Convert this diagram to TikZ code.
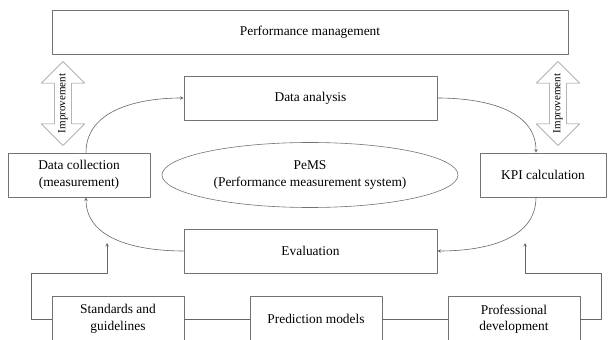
\documentclass[tikz,border=0pt]{standalone}
\usepackage{fontspec}
\setmainfont{Liberation Serif}
\usetikzlibrary{shapes.geometric,shapes.arrows}
\begin{document}
\begin{tikzpicture}[x=1pt, y=1pt, >=stealth, line join=round, font=\fontsize{13.4}{16.5}\selectfont,
	box/.style={draw=black!55, line width=0.6pt, minimum height=44pt, align=center, inner sep=2pt},
	link/.style={draw=black!60, line width=0.6pt},
	impr/.style={double arrow, draw=black!45, line width=0.6pt, rotate=90, minimum height=77pt, minimum width=43pt, double arrow head extend=13pt, inner sep=3.5pt, font=\fontsize{11}{12}\selectfont}]
	\useasboundingbox (0,0) rectangle (608,340);
	% top and the cycle
	\node[box, minimum width=516pt] (pm) at (310,308) {Performance management};
	\node[box, minimum width=253pt] (da) at (310.5,242) {Data analysis};
	\node[box, minimum width=142pt] (dc) at (79,165) {Data collection\\(measurement)};
	\node[box, minimum width=126pt] (kpi) at (543,165) {KPI calculation};
	\node[box, minimum width=253pt] (ev) at (310.5,89) {Evaluation};
	\node[ellipse, draw=black!55, line width=0.6pt, minimum width=296pt, minimum height=65pt, inner sep=0pt, align=center] (pems) at (310,165) {PeMS\\(Performance measurement system)};
	\foreach \n/\x in {ia/63, ib/558}{\node[impr] (\n) at (\x,236.5) {Improvement};}
	\draw[link,->] ([xshift=7pt]dc.north) to[out=90,in=180] (da.west);
	\draw[link,->] (da.east) to[out=0,in=90] ([xshift=-7pt]kpi.north);
	\draw[link,->] ([xshift=-7pt]kpi.south) to[out=-90,in=0] (ev.east);
	\draw[link,->] (ev.west) to[out=180,in=-90] ([xshift=7pt]dc.south);
	% bottom row
	\foreach \n/\x/\t in {sg/118/{Standards and\\guidelines}, pr/316/{Prediction models}, pd/514/{Professional\\development}}{\node[box, minimum width=132pt, minimum height=46pt] (\n) at (\x,21) {\t};}
	\coordinate (ta) at (107,97);
	\coordinate (tb) at (525,97);
	\draw[link] (sg) -- (pr) (pr) -- (pd);
	\draw[link,->] (sg.west) -| (31,67) -| (ta);
	\draw[link,->] (pd.east) -| (601,67) -| (tb);
\end{tikzpicture}
\end{document}
